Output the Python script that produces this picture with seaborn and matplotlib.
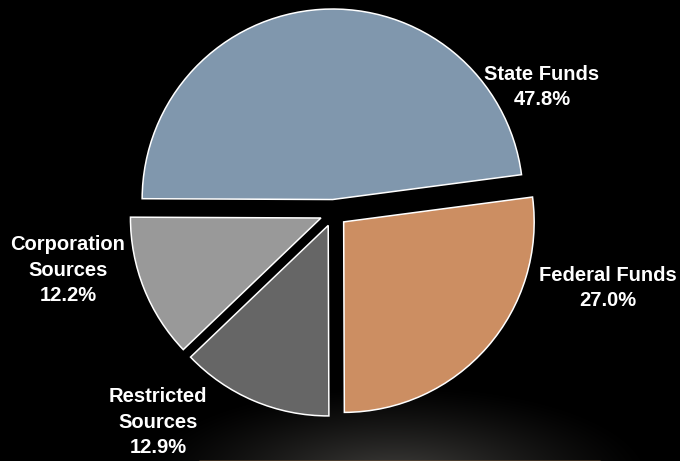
import numpy as np
import matplotlib
matplotlib.use("Agg")
import matplotlib.pyplot as plt
import seaborn as sns

# Revenue sources (percent of total)
sources = ["State Funds", "Corporation\nSources", "Restricted\nSources", "Federal Funds"]
shares = [47.8, 12.2, 12.9, 27.0]
slice_colors = ["#8097ad", "#999999", "#666666", "#cc8e62"]

# Label anchor points in figure pixels (x, y from top)
label_xy = [(542, 87), (68, 270), (158, 422), (608, 288)]

sns.set_style("dark")
plt.rcParams["font.family"] = ["Liberation Sans Narrow", "Liberation Sans", "DejaVu Sans"]

W, H = 680, 461
fig = plt.figure(figsize=(W / 100, H / 100), dpi=100, facecolor="black")

# Background: black with a soft glow rising from the bottom edge
bg = fig.add_axes([0, 0, 1, 1])
bg.set_axis_off()
yy, xx = np.mgrid[0:H, 0:W]
dist = np.sqrt(((xx - 395) / 260.0) ** 2 + ((yy - 478) / 95.0) ** 2)
glow = np.clip(1 - dist, 0, 1) ** 1.3
rgb = np.zeros((H, W, 3))
rgb[..., 0] = glow * 0.26
rgb[..., 1] = glow * 0.255
rgb[..., 2] = glow * 0.245
bg.imshow(rgb, extent=(0, W, H, 0), aspect="auto")
bg.set_xlim(0, W)
bg.set_ylim(H, 0)
bg.plot([200, 600], [460.5, 460.5], color="#6a5035", lw=1.2, alpha=0.6)

ax = fig.add_axes([0, 0, 1, 1])
ax.set_facecolor("none")
ax.patch.set_alpha(0)

# Every slice pulled out from the centre by the same distance (pixels)
pull = 13.5
ax.pie(
    shares,
    colors=slice_colors,
    startangle=7.5,
    counterclock=True,
    explode=[pull] * len(shares),
    radius=190.5,
    center=(333.5, H - 213),
    frame=True,
    wedgeprops=dict(edgecolor="white", linewidth=1.1),
)
ax.set_xlim(0, W)
ax.set_ylim(0, H)
ax.set_aspect("equal")
ax.set_axis_off()

for name, val, (lx, ly) in zip(sources, shares, label_xy):
    ax.text(lx, H - ly, f"{name}\n{val:.1f}%", ha="center", va="center",
            multialignment="center", color="white", fontsize=14.5,
            fontweight="bold", linespacing=1.45)

fig.savefig("out.png", dpi=100, facecolor="black")
